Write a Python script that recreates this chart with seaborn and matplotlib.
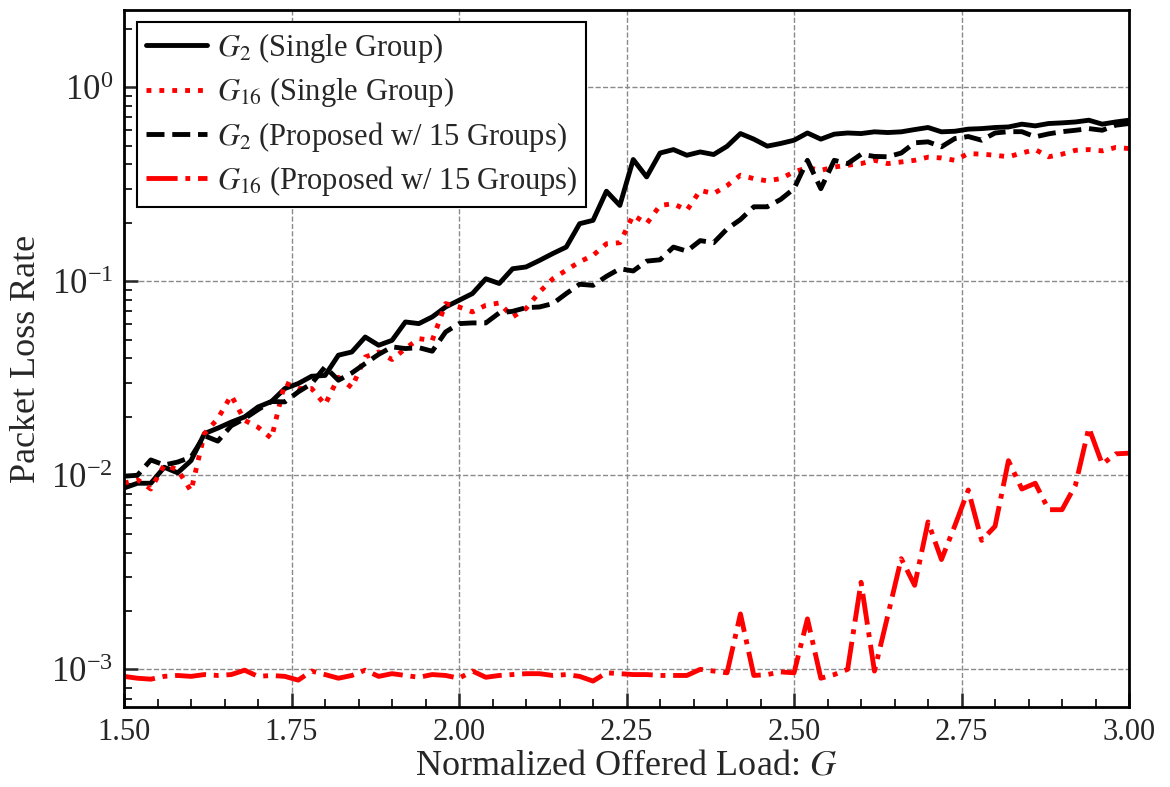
import numpy as np
import matplotlib
matplotlib.use("Agg")
import matplotlib.pyplot as plt
import seaborn as sns
from matplotlib.ticker import MultipleLocator, LogLocator, NullFormatter

# ---------------- data ----------------
G = [round(1.50 + 0.02 * i, 2) for i in range(76)]

g2_single = [0.0086, 0.0091, 0.0091, 0.0110, 0.0103, 0.0119, 0.0164, 0.0175, 0.0188, 0.0200,
             0.0225, 0.0240, 0.0280, 0.0297, 0.0324, 0.0327, 0.0416, 0.0432, 0.0516, 0.0468,
             0.0496, 0.0617, 0.0605, 0.0655, 0.0737, 0.0798, 0.0864, 0.1030, 0.0974, 0.1160,
             0.1185, 0.1280, 0.1390, 0.1500, 0.1980, 0.2060, 0.2910, 0.2460, 0.4240, 0.3450,
             0.4580, 0.4770, 0.4460, 0.4640, 0.4500, 0.4960, 0.5770, 0.5400, 0.4970, 0.5130,
             0.5330, 0.5810, 0.5400, 0.5730, 0.5810, 0.5770, 0.5890, 0.5840, 0.5890, 0.6050,
             0.6200, 0.5890, 0.5930, 0.6080, 0.6120, 0.6200, 0.6240, 0.6450, 0.6320, 0.6500,
             0.6550, 0.6620, 0.6760, 0.6450, 0.6620, 0.6760]

g16_single = [0.0091, 0.0095, 0.0085, 0.0113, 0.0107, 0.0083, 0.0164, 0.0196, 0.0258, 0.0192,
              0.0177, 0.0155, 0.0300, 0.0280, 0.0280, 0.0231, 0.0320, 0.0283, 0.0407, 0.0432,
              0.0395, 0.0450, 0.0506, 0.0496, 0.0767, 0.0737, 0.0695, 0.0752, 0.0773, 0.0655,
              0.0723, 0.0880, 0.1030, 0.1140, 0.1260, 0.1360, 0.1560, 0.1580, 0.2190, 0.1980,
              0.2460, 0.2510, 0.2320, 0.2940, 0.2830, 0.3110, 0.3520, 0.3380, 0.3290, 0.3380,
              0.3660, 0.3850, 0.3730, 0.3880, 0.3960, 0.4040, 0.4200, 0.4040, 0.4120, 0.4200,
              0.4360, 0.4320, 0.4200, 0.4550, 0.4520, 0.4460, 0.4380, 0.4580, 0.4770, 0.4380,
              0.4520, 0.4730, 0.4770, 0.4700, 0.4890, 0.4830]

g2_prop = [0.0099, 0.0100, 0.0120, 0.0113, 0.0117, 0.0124, 0.0160, 0.0150, 0.0180, 0.0196,
           0.0218, 0.0240, 0.0239, 0.0269, 0.0297, 0.0362, 0.0309, 0.0337, 0.0377, 0.0420,
           0.0459, 0.0450, 0.0455, 0.0436, 0.0548, 0.0605, 0.0610, 0.0610, 0.0687, 0.0700,
           0.0731, 0.0737, 0.0767, 0.0864, 0.0965, 0.0953, 0.1060, 0.1160, 0.1130, 0.1270,
           0.1290, 0.1500, 0.1430, 0.1620, 0.1580, 0.1860, 0.2080, 0.2420, 0.2420, 0.2640,
           0.3000, 0.4200, 0.3000, 0.4200, 0.4040, 0.4510, 0.4400, 0.4380, 0.4580, 0.5170,
           0.5230, 0.4930, 0.5440, 0.5570, 0.5330, 0.5810, 0.5900, 0.5900, 0.5550, 0.5750,
           0.5900, 0.6000, 0.6120, 0.6000, 0.6370, 0.6500]

g16_prop = [0.00092, 0.00090, 0.00089, 0.00092, 0.00093, 0.00092, 0.00094, 0.00093, 0.00094, 0.00099,
            0.00092, 0.00093, 0.00092, 0.00088, 0.00098, 0.00094, 0.00090, 0.00093, 0.00099, 0.00092,
            0.00095, 0.00093, 0.00091, 0.00094, 0.00093, 0.00090, 0.00098, 0.00091, 0.00093, 0.00094,
            0.00095, 0.00095, 0.00093, 0.00094, 0.00092, 0.00087, 0.00096, 0.00095, 0.00094, 0.00094,
            0.00093, 0.00093, 0.00093, 0.00100, 0.00098, 0.00096, 0.00193, 0.00093, 0.00094, 0.00097,
            0.00096, 0.00182, 0.00090, 0.00094, 0.00100, 0.00281, 0.00098, 0.00190, 0.00372, 0.00271,
            0.00575, 0.00368, 0.00550, 0.00840, 0.00462, 0.00546, 0.01190, 0.00850, 0.00910, 0.00665,
            0.00665, 0.00890, 0.01760, 0.01140, 0.01290, 0.01300]

labels = ["$G_2$ (Single Group)", "$G_{16}$ (Single Group)",
          "$G_2$ (Proposed w/ 15 Groups)", "$G_{16}$ (Proposed w/ 15 Groups)"]
x_ticks = [1.50, 1.75, 2.00, 2.25, 2.50, 2.75, 3.00]

# ---------------- style ----------------
sns.set_style("ticks")
plt.rcParams["font.family"] = ["Liberation Serif", "DejaVu Serif"]
plt.rcParams["mathtext.fontset"] = "stix"

fig = plt.figure(figsize=(11.7, 7.87), dpi=100)
ax = fig.add_axes([0.106, 0.1017, 0.859, 0.8856])

series = [
    (g2_single, "black", "-"),
    (g16_single, "red", ":"),
    (g2_prop, "black", "--"),
    (g16_prop, "red", "-."),
]
for (vals, col, ls), lab in zip(series, labels):
    sns.lineplot(x=G, y=vals, color=col, linestyle=ls, linewidth=3.5, label=lab, ax=ax)

ax.set_yscale("log")
ax.set_xlim(1.5, 3.0)
ax.set_ylim(6.4e-4, 2.5)
ax.set_xticks(x_ticks)
ax.set_xticklabels([f"{v:.2f}" for v in x_ticks])
ax.xaxis.set_minor_locator(MultipleLocator(0.05))
ax.yaxis.set_major_locator(LogLocator(base=10, numticks=10))
ax.yaxis.set_minor_locator(LogLocator(base=10, subs=np.arange(2, 10) * 1.0, numticks=20))
ax.yaxis.set_minor_formatter(NullFormatter())

ax.grid(True, which="major", color="#8a8a8a", linestyle="--", linewidth=1.0)
ax.tick_params(which="major", direction="in", length=10, width=1.8,
               top=False, right=False, pad=8)
ax.tick_params(axis="x", which="major", labelsize=22)
ax.tick_params(axis="y", which="major", labelsize=25)
ax.tick_params(which="minor", direction="in", length=6, width=1.4, top=False, right=False)
for sp in ax.spines.values():
    sp.set_visible(True)
    sp.set_linewidth(2.0)
    sp.set_color("black")

ax.set_xlabel("Normalized Offered Load: $G$", fontsize=26, labelpad=2)
ax.set_ylabel("Packet Loss Rate", fontsize=26, labelpad=6)

leg = ax.legend(loc="upper left", bbox_to_anchor=(0.013, 0.983), borderaxespad=0.0,
                fontsize=22, frameon=True, fancybox=False, framealpha=1, edgecolor="black",
                handlelength=2.0, handletextpad=0.3, borderpad=0.3, labelspacing=0.34)
leg.get_frame().set_linewidth(1.5)

fig.savefig("out.png", dpi=100)
